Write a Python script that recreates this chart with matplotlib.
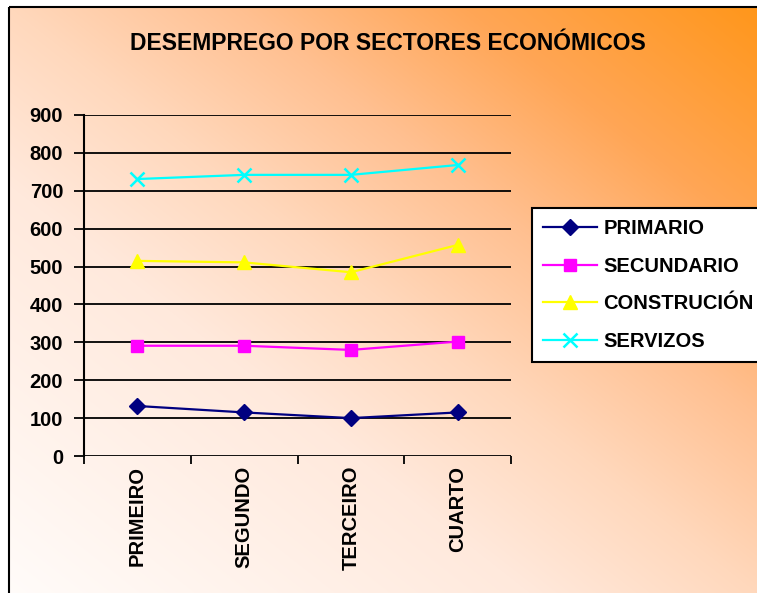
import numpy as np
import matplotlib
matplotlib.use("Agg")
import matplotlib.pyplot as plt

# ---- data ----
categories = ["PRIMEIRO", "SEGUNDO", "TERCEIRO", "CUARTO"]
primario = [132, 115, 100, 115]
secundario = [291, 291, 280, 302]
construcion = [515, 511, 485, 557]
servizos = [731, 742, 742, 768]
series_names = ["PRIMARIO", "SECUNDARIO", "CONSTRUCIÓN", "SERVIZOS"]
title = "DESEMPREGO POR SECTORES ECONÓMICOS"
yticks = [0, 100, 200, 300, 400, 500, 600, 700, 800, 900]

W, H = 757, 593
DPI = 100
plt.rcParams['font.family'] = ['Liberation Sans', 'DejaVu Sans']
plt.rcParams['font.weight'] = 'bold'

fig = plt.figure(figsize=(W / DPI, H / DPI), dpi=DPI)

# ---- gradient background ----
xs = np.arange(W) / W
ys = np.arange(H) / H
X, Y = np.meshgrid(xs, ys)
t = (X + (1 - Y)) / 2
stops = [0, 0.35, 0.5, 0.65, 0.8, 1.0]
G = np.interp(t, stops, [252, 233, 216, 192, 166, 150])
B = np.interp(t, stops, [250, 220, 188, 145, 86, 25])
R = np.full_like(G, 255)
img = np.dstack([R, G, B]) / 255.0
img[:7, :, :] = 1.0
img[:, :9, :] = 1.0

bg = fig.add_axes([0, 0, 1, 1], zorder=0)
bg.imshow(img, extent=[0, W, H, 0], aspect='auto', interpolation='bilinear')
bg.set_xlim(0, W)
bg.set_ylim(H, 0)
bg.axis('off')
bg.plot([9, W], [7, 7], color='black', lw=1.5, solid_capstyle='butt')
bg.plot([9, 9], [7, H], color='black', lw=1.5, solid_capstyle='butt')

# ---- main axes ----
left, right, top, bottom = 84, 511, 115, 456
ax = fig.add_axes([left / W, 1 - bottom / H, (right - left) / W, (bottom - top) / H], zorder=1)
ax.patch.set_alpha(0)

x = np.arange(len(categories))
styles = [
    dict(color='#000080', marker='D', markersize=8),
    dict(color='#FF00FF', marker='s', markersize=8),
    dict(color='#FFFF00', marker='^', markersize=10),
    dict(color='#00FFFF', marker='x', markersize=10, markeredgewidth=1.8),
]
data = [primario, secundario, construcion, servizos]
handles = []
for vals, name, st in zip(data, series_names, styles):
    h, = ax.plot(x, vals, lw=1.6, label=name, zorder=3, clip_on=False, **st)
    handles.append(h)

ax.set_xlim(-0.5, len(categories) - 0.5)
ax.set_ylim(0, 900)
ax.set_yticks(yticks)
ax.set_yticklabels([str(v) for v in yticks])
for v in yticks:
    ax.axhline(v, color='black', lw=1.3, zorder=1)

ax.set_xticks(np.arange(len(categories) + 1) - 0.5)
ax.set_xticklabels([])
ax.set_xticks(x, minor=True)
ax.set_xticklabels(categories, minor=True, rotation=90, ha='center', va='top',
                   fontsize=14.5, fontweight='bold')
ax.tick_params(axis='x', which='major', direction='out', length=6, width=1.3, color='black')
ax.tick_params(axis='x', which='minor', length=0, pad=7)
ax.tick_params(axis='y', direction='out', length=7, width=1.3, pad=8, labelsize=14.5)
for lab in ax.get_yticklabels():
    lab.set_fontweight('bold')

for s in ['top', 'right', 'bottom']:
    ax.spines[s].set_visible(False)
ax.spines['left'].set_linewidth(1.5)
ax.spines['left'].set_color('black')

# ---- title ----
fig.text(388 / W, 1 - 43 / H, title, ha='center', va='center',
         fontsize=16.5, fontweight='bold', color='black')

# ---- legend ----
leg = fig.legend(handles=handles, loc='upper left',
                 bbox_to_anchor=(532 / W, 1 - 208 / H),
                 prop={'size': 14.5, 'weight': 'bold'},
                 frameon=True, fancybox=False, framealpha=1,
                 edgecolor='black', facecolor='white',
                 handlelength=2.7, handletextpad=0.3, labelspacing=0.92,
                 borderpad=0.55, borderaxespad=0)
leg.get_frame().set_linewidth(1.5)
leg.set_zorder(5)

fig.savefig("out.png", dpi=DPI)
